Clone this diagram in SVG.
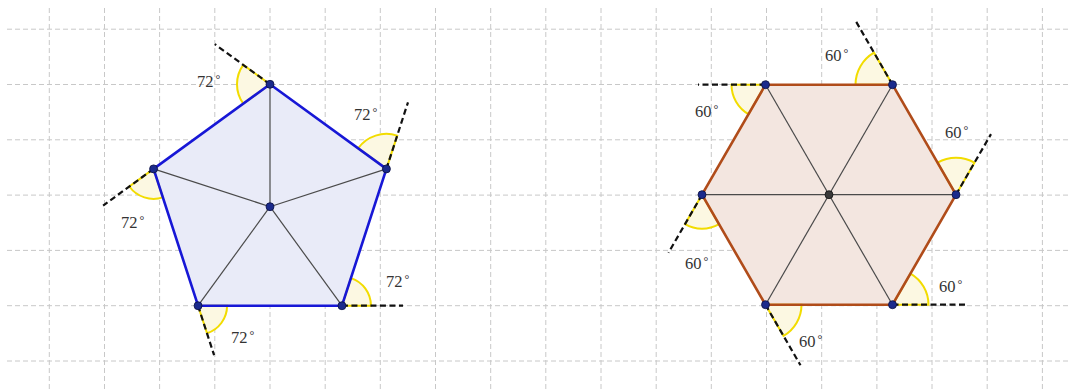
<svg xmlns="http://www.w3.org/2000/svg" width="1068" height="389" viewBox="0 0 1068 389">
<style>
.grid line{stroke:#c8c8c8;stroke-width:1;stroke-dasharray:5,3}
.sector{fill:#fcf8e2;stroke:#f2dc00;stroke-width:2}
.inner{stroke:#4a4a4a;stroke-width:1.2;fill:none}
.ext{stroke:#111;stroke-width:2.2;stroke-dasharray:6,3.5;fill:none}
.pent{fill:#e9ebf8;stroke:none}
.pentEdge{fill:none;stroke:#1717d6;stroke-width:2.6;stroke-linejoin:round}
.hex{fill:#f3e6e0;stroke:none}
.hexEdge{fill:none;stroke:#b04c1a;stroke-width:2.6;stroke-linejoin:round}
.pt{fill:#1b2a8c;stroke:#0a0f40;stroke-width:0.8}
.ctr{fill:#3a3a3a;stroke:#111;stroke-width:0.8}
.lbl{font-family:"Liberation Serif","DejaVu Serif",serif;font-size:16.5px;fill:#333}
.deg{font-size:12px}
</style>
<rect x="0" y="0" width="1068" height="389" fill="#ffffff"/>
<g id="grid" class="grid">
<line x1="7" y1="29.2" x2="1068" y2="29.2"/>
<line x1="7" y1="84.5" x2="1068" y2="84.5"/>
<line x1="7" y1="139.8" x2="1068" y2="139.8"/>
<line x1="7" y1="195.1" x2="1068" y2="195.1"/>
<line x1="7" y1="250.4" x2="1068" y2="250.4"/>
<line x1="7" y1="305.7" x2="1068" y2="305.7"/>
<line x1="7" y1="361" x2="1068" y2="361"/>
<line x1="49.3" y1="8" x2="49.3" y2="389"/>
<line x1="104.5" y1="8" x2="104.5" y2="389"/>
<line x1="159.6" y1="8" x2="159.6" y2="389"/>
<line x1="214.8" y1="8" x2="214.8" y2="389"/>
<line x1="270" y1="8" x2="270" y2="389"/>
<line x1="325.2" y1="8" x2="325.2" y2="389"/>
<line x1="380.3" y1="8" x2="380.3" y2="389"/>
<line x1="435.5" y1="8" x2="435.5" y2="389"/>
<line x1="490.7" y1="8" x2="490.7" y2="389"/>
<line x1="545.8" y1="8" x2="545.8" y2="389"/>
<line x1="601" y1="8" x2="601" y2="389"/>
<line x1="656.2" y1="8" x2="656.2" y2="389"/>
<line x1="711.3" y1="8" x2="711.3" y2="389"/>
<line x1="766.5" y1="8" x2="766.5" y2="389"/>
<line x1="821.7" y1="8" x2="821.7" y2="389"/>
<line x1="876.9" y1="8" x2="876.9" y2="389"/>
<line x1="932" y1="8" x2="932" y2="389"/>
<line x1="987.2" y1="8" x2="987.2" y2="389"/>
<line x1="1042.4" y1="8" x2="1042.4" y2="389"/>
</g>

<g id="pentagon">
<polygon class="pent" points="270,84.3 386.41,168.88 341.94,305.72 198.06,305.72 153.59,168.88"/>
<g id="pentagon-angles">
<path class="sector" d="M270,84.3 L243.30,64.90 A33,33 0 0,0 243.30,103.70 Z"/>
<path class="sector" d="M386.41,168.88 L358.09,148.31 A35,35 0 0,1 397.23,135.59 Z"/>
<path class="sector" d="M341.94,305.72 L350.90,278.14 A29,29 0 0,1 370.94,305.72 Z"/>
<path class="sector" d="M198.06,305.72 L227.06,305.72 A29,29 0 0,1 207.02,333.30 Z"/>
<path class="sector" d="M153.59,168.88 L162.86,197.41 A30,30 0 0,1 129.32,186.51 Z"/>
</g>
</g>

<g id="hexagon">
<polygon class="hex" points="765.5,84.7 892.5,84.7 956,194.7 892.5,304.7 765.5,304.7 702,194.7"/>
<g id="hexagon-angles">
<path class="sector" d="M765.5,84.7 L748.5,114.14 A34,34 0 0,1 731.5,84.7 Z"/>
<path class="sector" d="M702,194.7 L719,224.14 A34,34 0 0,1 685,224.14 Z"/>
<path class="sector" d="M765.5,304.7 L801.5,304.7 A36,36 0 0,1 783.5,335.88 Z"/>
<path class="sector" d="M892.5,304.7 L910.5,273.52 A36,36 0 0,1 928.5,304.7 Z"/>
<path class="sector" d="M956,194.7 L937.5,162.66 A37,37 0 0,1 974.5,162.66 Z"/>
<path class="sector" d="M892.5,84.7 L855.5,84.7 A37,37 0 0,1 874,52.66 Z"/>
</g>
</g>

<g id="connectors">
<g id="pentagon-spokes" class="inner">
<line x1="270" y1="206.7" x2="270" y2="84.3"/>
<line x1="270" y1="206.7" x2="386.41" y2="168.88"/>
<line x1="270" y1="206.7" x2="341.94" y2="305.72"/>
<line x1="270" y1="206.7" x2="198.06" y2="305.72"/>
<line x1="270" y1="206.7" x2="153.59" y2="168.88"/>
</g>
<g id="hexagon-diagonals" class="inner">
<line x1="702" y1="194.7" x2="956" y2="194.7"/>
<line x1="765.5" y1="84.7" x2="892.5" y2="304.7"/>
<line x1="892.5" y1="84.7" x2="765.5" y2="304.7"/>
</g>
<polygon class="pentEdge" points="270,84.3 386.41,168.88 341.94,305.72 198.06,305.72 153.59,168.88"/>
<polygon class="hexEdge" points="765.5,84.7 892.5,84.7 956,194.7 892.5,304.7 765.5,304.7 702,194.7"/>
<g id="extensions">
<line class="ext" x1="270" y1="84.3" x2="214.8" y2="44.2"/>
<line class="ext" x1="386.41" y1="168.88" x2="408" y2="102.3"/>
<line class="ext" x1="341.94" y1="305.72" x2="403" y2="305.72"/>
<line class="ext" x1="198.06" y1="305.72" x2="214.1" y2="355.2"/>
<line class="ext" x1="153.59" y1="168.88" x2="103.1" y2="205.6"/>
<line class="ext" x1="765.5" y1="84.7" x2="698" y2="84.7"/>
<line class="ext" x1="702" y1="194.7" x2="668.5" y2="252.72"/>
<line class="ext" x1="765.5" y1="304.7" x2="800.5" y2="365.32"/>
<line class="ext" x1="892.5" y1="304.7" x2="965" y2="304.7"/>
<line class="ext" x1="956" y1="194.7" x2="991" y2="134.08"/>
<line class="ext" x1="892.5" y1="84.7" x2="856" y2="21.48"/>
</g>
</g>

<g id="pentagon-points">
<circle class="pt" cx="270" cy="84.3" r="4"/>
<circle class="pt" cx="386.41" cy="168.88" r="4"/>
<circle class="pt" cx="341.94" cy="305.72" r="4"/>
<circle class="pt" cx="198.06" cy="305.72" r="4"/>
<circle class="pt" cx="153.59" cy="168.88" r="4"/>
<circle class="pt" cx="270" cy="206.7" r="4"/>
</g>
<g id="hexagon-points">
<circle class="pt" cx="765.5" cy="84.7" r="4"/>
<circle class="pt" cx="892.5" cy="84.7" r="4"/>
<circle class="pt" cx="956" cy="194.7" r="4"/>
<circle class="pt" cx="892.5" cy="304.7" r="4"/>
<circle class="pt" cx="765.5" cy="304.7" r="4"/>
<circle class="pt" cx="702" cy="194.7" r="4"/>
<circle class="ctr" cx="829" cy="194.7" r="4"/>
</g>

<g id="labels" class="lbl">
<text x="197" y="87">72<tspan class="deg" dx="2" dy="-4">°</tspan></text>
<text x="354" y="120">72<tspan class="deg" dx="2" dy="-4">°</tspan></text>
<text x="386" y="287">72<tspan class="deg" dx="2" dy="-4">°</tspan></text>
<text x="231" y="343">72<tspan class="deg" dx="2" dy="-4">°</tspan></text>
<text x="121" y="228">72<tspan class="deg" dx="2" dy="-4">°</tspan></text>
<text x="825" y="61">60<tspan class="deg" dx="2" dy="-4">°</tspan></text>
<text x="695" y="117">60<tspan class="deg" dx="2" dy="-4">°</tspan></text>
<text x="945" y="138">60<tspan class="deg" dx="2" dy="-4">°</tspan></text>
<text x="685" y="269">60<tspan class="deg" dx="2" dy="-4">°</tspan></text>
<text x="939" y="292">60<tspan class="deg" dx="2" dy="-4">°</tspan></text>
<text x="799" y="347">60<tspan class="deg" dx="2" dy="-4">°</tspan></text>
</g>
</svg>
